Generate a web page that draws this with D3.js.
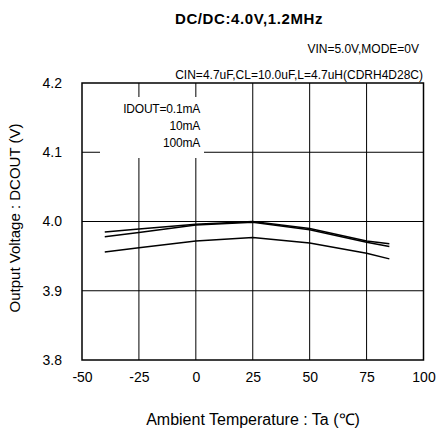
<!DOCTYPE html>
<html><head><meta charset="utf-8">
<script src="https://cdn.jsdelivr.net/npm/d3@7"></script>
<style>body{margin:0;background:#fff}svg{display:block;font-family:"Liberation Sans",Arial,sans-serif}</style>
</head><body><svg id="c" width="437" height="430"></svg>
<script>
const temps = [-40, -25, 0, 25, 50, 75, 85];
const v01mA = [3.985, 3.989, 3.996, 4.000, 3.990, 3.972, 3.968];
const v10mA = [3.978, 3.984, 3.995, 3.999, 3.988, 3.970, 3.964];
const v100mA = [3.956, 3.962, 3.972, 3.977, 3.969, 3.954, 3.946];
const xTicks = [-50, -25, 0, 25, 50, 75, 100];
const yTicks = [3.8, 3.9, 4.0, 4.1, 4.2];
const legendLabels = ["IDOUT=0.1mA", "10mA", "100mA"];

const FF = "Liberation Sans, Arial, sans-serif";
const svg = d3.select("#c");
const L = 82, R = 423.5, T = 83, B = 360;
const x = d3.scaleLinear().domain([-50, 100]).range([L, R]);
const y = d3.scaleLinear().domain([3.8, 4.2]).range([B, T]);

// grid
svg.append("g").selectAll("line").data(xTicks.slice(1, -1)).join("line")
  .attr("x1", d => x(d)).attr("x2", d => x(d)).attr("y1", T).attr("y2", B)
  .attr("stroke", "#000").attr("stroke-width", 1);
svg.append("g").selectAll("line").data(yTicks.slice(1, -1)).join("line")
  .attr("y1", d => y(d)).attr("y2", d => y(d)).attr("x1", L).attr("x2", R)
  .attr("stroke", "#000").attr("stroke-width", 1);

// legend background
svg.append("rect").attr("x", 100).attr("y", 97).attr("width", 104).attr("height", 61).attr("fill", "#fff");
svg.append("g").selectAll("text").data(legendLabels).join("text")
  .attr("x", 200).attr("y", (d, i) => 113 + i * 17)
  .attr("text-anchor", "end").attr("font-size", 12).attr("letter-spacing", -0.2).text(d => d);

// lines
const line = d3.line().x((d, i) => x(temps[i])).y(d => y(d));
[v01mA, v10mA, v100mA].forEach(s => {
  svg.append("path").datum(s).attr("d", line).attr("fill", "none")
    .attr("stroke", "#000").attr("stroke-width", 1.5);
});

// frame
svg.append("rect").attr("x", L).attr("y", T).attr("width", R - L).attr("height", B - T)
  .attr("fill", "none").attr("stroke", "#000").attr("stroke-width", 1.5);

// axes labels
const xa = d3.axisBottom(x).tickValues(xTicks).tickSize(0).tickPadding(12).tickFormat(d => String(d));
const gx = svg.append("g").attr("transform", `translate(0,${B})`).call(xa);
gx.select(".domain").remove();
gx.selectAll("text").attr("font-size", 14).attr("font-family", FF).attr("fill", "#000");
const ya = d3.axisLeft(y).tickValues(yTicks).tickSize(0).tickPadding(20).tickFormat(d => d.toFixed(1));
const gy = svg.append("g").attr("transform", `translate(${L},0)`).call(ya);
gy.select(".domain").remove();
gy.selectAll("text").attr("font-size", 14).attr("font-family", FF).attr("fill", "#000");

// titles
svg.append("text").attr("x", 249).attr("y", 24).attr("text-anchor", "middle")
  .attr("font-size", 15).attr("font-weight", "bold").attr("letter-spacing", 0.6).text("DC/DC:4.0V,1.2MHz");
svg.append("text").attr("x", 419).attr("y", 53).attr("text-anchor", "end")
  .attr("font-size", 12).text("VIN=5.0V,MODE=0V");
svg.append("text").attr("x", 423).attr("y", 79).attr("text-anchor", "end")
  .attr("font-size", 12).text("CIN=4.7uF,CL=10.0uF,L=4.7uH(CDRH4D28C)");
svg.append("text").attr("x", 253).attr("y", 425).attr("text-anchor", "middle")
  .attr("font-size", 16).text("Ambient Temperature : Ta (℃)");
svg.append("text").attr("transform", "translate(20,218) rotate(-90)").attr("text-anchor", "middle")
  .attr("font-size", 15).text("Output Voltage : DCOUT (V)");
</script></body></html>
